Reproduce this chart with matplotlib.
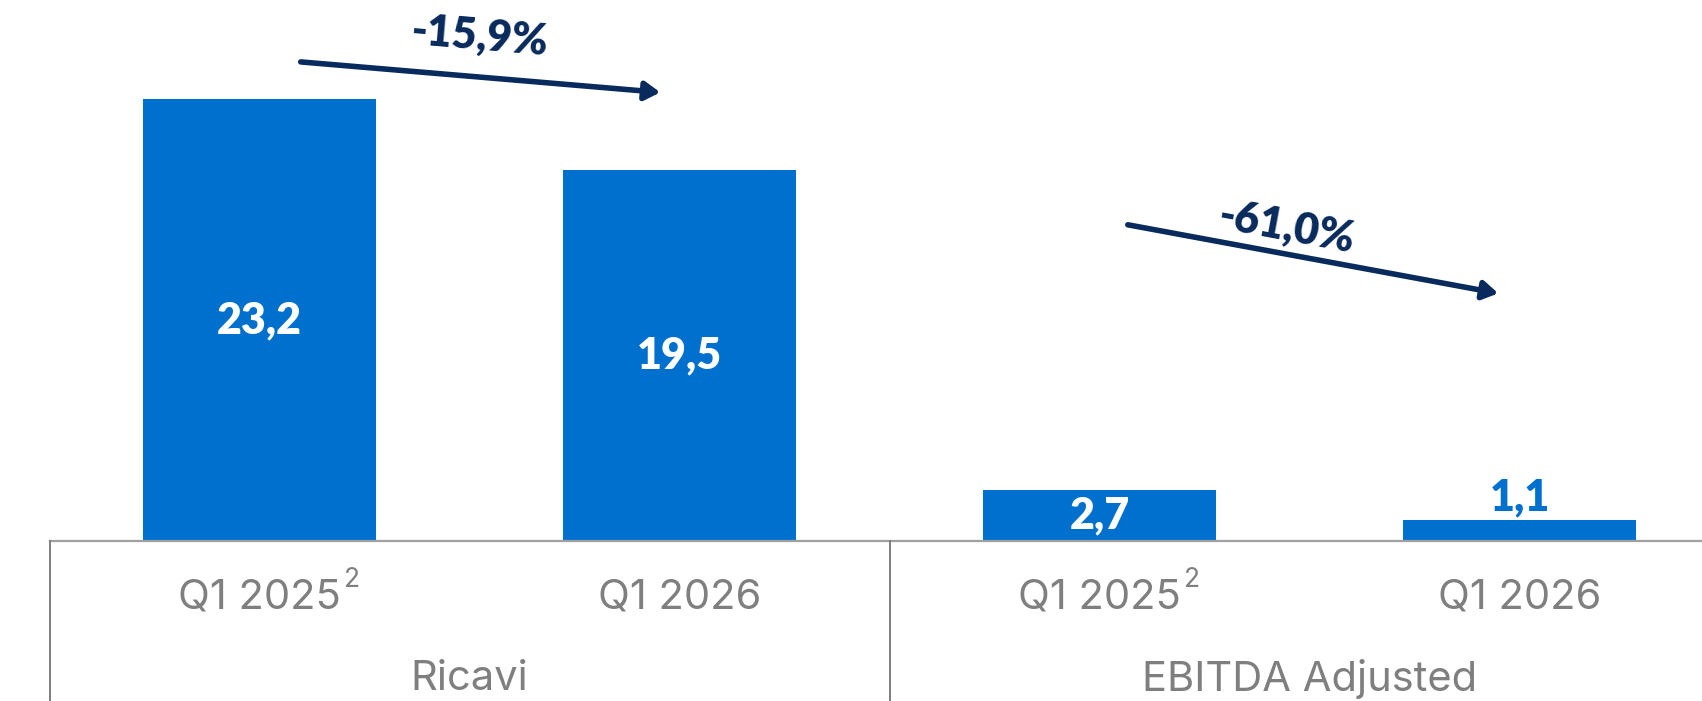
import matplotlib
matplotlib.use("Agg")
import matplotlib.pyplot as plt

# data
groups = ["Ricavi", "EBITDA Adjusted"]
periods = ["Q1 2025", "Q1 2026", "Q1 2025", "Q1 2026"]
footnote = ["2", "", "2", ""]
values = [23.2, 19.5, 2.7, 1.1]
labels = ["23,2", "19,5", "2,7", "1,1"]
changes = ["-15,9%", "-61,0%"]

blue = "#0070cf"
navy = "#082a5c"
grey = "#7f7f7f"

fig = plt.figure(figsize=(17.02, 7.01), dpi=100)
ax = fig.add_axes([0, 0, 1, 1])
ax.set_xlim(-0.618, 3.434)
ax.set_ylim(-8.4, 28.4)
ax.axis("off")

x = list(range(len(values)))
ax.bar(x, values, width=0.555, color=blue, zorder=2)

# value labels: inside the bar unless the bar is too short
for xi, v, lab in zip(x, values, labels):
    if v > 2:
        ax.text(xi, v / 2, lab, ha="center", va="center", color="white",
                fontsize=31, fontweight="heavy", family="Lato")
    else:
        ax.text(xi, v + 0.15, lab, ha="center", va="bottom", color=blue,
                fontsize=31, fontweight="heavy", family="Lato")

# baseline and group separators
ax.plot([-0.5, 3.5], [0, 0], color="#a0a0a0", lw=1.6, zorder=3)
for b in [-0.5, 1.5, 3.5]:
    ax.plot([b, b], [0, -8.4], color=grey, lw=1.4, zorder=3)

# period labels
for xi, p, sup in zip(x, periods, footnote):
    t = ax.text(xi, -2.95, p, ha="center", va="center", color=grey,
                fontsize=30, family="Inter")
    if sup:
        ax.annotate(sup, xy=(1, 1), xycoords=t, xytext=(2, 8),
                    textcoords="offset points", ha="left", va="top",
                    color=grey, fontsize=19, family="Inter")

# group labels
for i, g in enumerate(groups):
    ax.text(2 * i + 0.5, -7.25, g, ha="center", va="center", color=grey,
            fontsize=30, family="Inter")

# change arrows
arrows = [((0.098, 25.15), (0.954, 23.55)), ((2.067, 16.6), (2.949, 13.0))]
text_pos = [(0.524, 26.5, -4.8), (2.445, 16.45, -10.5)]
for (start, end), (tx, ty, rot), c in zip(arrows, text_pos, changes):
    ax.annotate("", xy=end, xytext=start,
                arrowprops=dict(arrowstyle="-|>,head_length=0.9,head_width=0.55",
                                color=navy, lw=4, shrinkA=0, shrinkB=0))
    ax.text(tx, ty, c, ha="center", va="center", rotation=rot, color=navy,
            fontsize=31, fontweight="heavy", family="Lato")

fig.savefig("out.png", dpi=100)
